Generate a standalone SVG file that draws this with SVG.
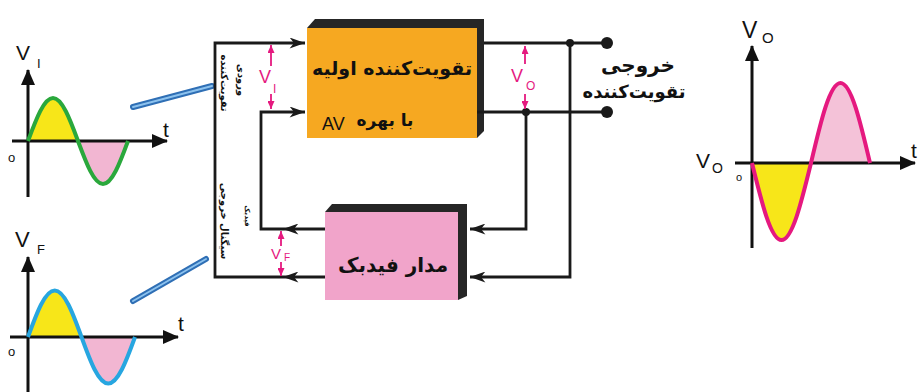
<svg xmlns="http://www.w3.org/2000/svg" width="919" height="392" viewBox="0 0 919 392">
<defs>
<style>
.ax{stroke:#111;stroke-width:3;fill:none}
.ln{stroke:#1a1a1a;stroke-width:2.8;fill:none}
.pk{stroke:#e5197f;stroke-width:1.8;fill:none}
.lat{font-family:"Liberation Sans",Arial,sans-serif;fill:#111}
.fa{font-family:"DejaVu Sans","Noto Sans",sans-serif;font-weight:bold;fill:#111}
.pkt{font-family:"Liberation Sans",Arial,sans-serif;fill:#e5197f}
.blueA{stroke:#2f6fb5;stroke-width:6;stroke-linecap:round;fill:none}
.blueB{stroke:#8cc2ee;stroke-width:2;stroke-linecap:round;fill:none}
</style>
<marker id="axh" viewBox="0 0 16 14" refX="15" refY="7" markerWidth="16" markerHeight="14" markerUnits="userSpaceOnUse" orient="auto"><path d="M0,0 L16,7 L0,14 Z" fill="#111"/></marker>
<marker id="ah" viewBox="0 0 14 10" refX="14" refY="5" markerWidth="16" markerHeight="11" markerUnits="userSpaceOnUse" orient="auto"><path d="M0,0 L14,5 L0,10 L4,5 Z" fill="#1a1a1a"/></marker>
<marker id="pah" viewBox="0 0 8 7" refX="8" refY="3.5" markerWidth="8" markerHeight="7" markerUnits="userSpaceOnUse" orient="auto"><path d="M0,0 L8,3.5 L0,7 Z" fill="#e5197f"/></marker>
</defs>
<rect width="919" height="392" fill="#fff"/>

<g id="graph-vi">
<path d="M28,141 C36.2,119 44,98 53,98 C62,98 69.9,119 78,141 Z" fill="#f7e619"/>
<path d="M78,141 C86.2,163 94,184 103,184 C112,184 119.9,163 128,141 Z" fill="#f2b6d2"/>
<line class="ax" x1="28" y1="197" x2="28" y2="70" marker-end="url(#axh)"/>
<line class="ax" x1="12" y1="141" x2="167" y2="141" marker-end="url(#axh)"/>
<path d="M28,141 C36.2,119 44,98 53,98 C62,98 69.9,119 78,141 C86.2,163 94,184 103,184 C112,184 119.9,163 128,141" fill="none" stroke="#2aa83c" stroke-width="4"/>
<text class="lat" x="16" y="60" font-size="21">V</text>
<text class="lat" x="37" y="68" font-size="13">I</text>
<text class="lat" x="163" y="137" font-size="21">t</text>
<text class="lat" x="8" y="162" font-size="13">o</text>
</g>

<g id="graph-vf">
<path d="M28,337 C36.7,313 45,290.5 54.75,290.5 C64.4,290.5 72.8,313 81.5,337 Z" fill="#f7e619"/>
<path d="M81.5,337 C90.2,361 98.5,383.5 108.25,383.5 C117.9,383.5 126.3,361 135,337 Z" fill="#f2b6d2"/>
<line class="ax" x1="28" y1="392" x2="28" y2="257" marker-end="url(#axh)"/>
<line class="ax" x1="10" y1="337" x2="178" y2="337" marker-end="url(#axh)"/>
<path d="M28,337 C36.7,313 45,290.5 54.75,290.5 C64.4,290.5 72.8,313 81.5,337 C90.2,361 98.5,383.5 108.25,383.5 C117.9,383.5 126.3,361 135,337" fill="none" stroke="#27a6e0" stroke-width="4"/>
<text class="lat" x="15" y="247" font-size="22">V</text>
<text class="lat" x="37" y="254" font-size="13">F</text>
<text class="lat" x="178" y="331" font-size="21">t</text>
<text class="lat" x="8" y="356" font-size="13">o</text>
</g>

<g id="graph-vo">
<path d="M752,163 C761.6,202.4 770.8,240 781.5,240 C792.2,240 801.4,202.4 811,163 Z" fill="#f7e619"/>
<path d="M811,163 C820.6,122 829.8,83 840.5,83 C851.2,83 860.4,122 870,163 Z" fill="#f4c2d8"/>
<line class="ax" x1="752" y1="248" x2="752" y2="46" marker-end="url(#axh)"/>
<line class="ax" x1="735" y1="163" x2="915" y2="163" marker-end="url(#axh)"/>
<path d="M752,163 C761.6,202.4 770.8,240 781.5,240 C792.2,240 801.4,202.4 811,163 C820.6,122 829.8,83 840.5,83 C851.2,83 860.4,122 870,163" fill="none" stroke="#e5197f" stroke-width="4"/>
<text class="lat" x="742" y="38" font-size="23">V</text>
<text class="lat" x="762" y="43" font-size="15">O</text>
<text class="lat" x="696" y="168" font-size="21">V</text>
<text class="lat" x="712" y="173" font-size="14">O</text>
<text class="lat" x="736" y="181" font-size="11">o</text>
<text class="lat" x="911" y="158" font-size="21">t</text>
</g>

<g id="blue-arrows">
<line class="blueA" x1="133" y1="107" x2="212" y2="86"/>
<line class="blueB" x1="133" y1="107" x2="212" y2="86"/>
<line class="blueA" x1="133" y1="301" x2="206" y2="259"/>
<line class="blueB" x1="133" y1="301" x2="206" y2="259"/>
</g>

<g id="amplifier">
<path d="M307,28 L315,19 L484,19 L484,131 L477,138 Z" fill="#262626"/>
<rect x="307" y="28" width="170" height="110" fill="#f6a821"/>
<text class="fa" x="392" y="75" font-size="19" text-anchor="middle">تقویت‌کننده اولیه</text>
<text class="fa" x="385" y="126" font-size="17" text-anchor="middle">با بهره</text>
<text class="lat" x="322" y="130" font-size="18">AV</text>
</g>

<g id="feedback">
<path d="M325,212 L332,204 L467,204 L467,296 L458,300 Z" fill="#262626"/>
<rect x="325" y="212" width="133" height="88" fill="#f1a4ca"/>
<text class="fa" x="393" y="272" font-size="20" text-anchor="middle">مدار فیدبک</text>
</g>

<g id="labels">
<text class="fa" x="638" y="72" font-size="20" text-anchor="middle">خروجی</text>
<text class="fa" x="634" y="98" font-size="18" text-anchor="middle">تقویت‌کننده</text>
<text class="fa" font-size="10" font-weight="normal" text-anchor="middle" transform="translate(238,80) rotate(90)">ورودی</text>
<text class="fa" font-size="10" font-weight="normal" text-anchor="middle" transform="translate(221,83) rotate(90)">تقویت‌کننده</text>
<text class="fa" font-size="10" font-weight="normal" text-anchor="middle" transform="translate(221,221) rotate(90)">سیگنال خروجی</text>
<text class="fa" font-size="7" font-weight="normal" text-anchor="middle" transform="translate(245,216) rotate(90)">فیدبک</text>
</g>

<g id="connectors">
<path class="ln" d="M325,277 L283,277" marker-end="url(#ah)"/>
<path class="ln" d="M283,277 L215,277 L215,43 L305,43" marker-end="url(#ah)"/>
<path class="ln" d="M325,229 L283,229" marker-end="url(#ah)"/>
<path class="ln" d="M283,229 L261,229 L261,112 L305,112" marker-end="url(#ah)"/>
<path class="ln" d="M484,43 L607,43"/>
<path class="ln" d="M477,112 L607,112"/>
<path class="ln" d="M526,112 L526,229 L470,229" marker-end="url(#ah)"/>
<path class="ln" d="M570,43 L570,277 L470,277" marker-end="url(#ah)"/>
<circle cx="607" cy="43" r="6" fill="#1a1a1a"/>
<circle cx="607" cy="112" r="6" fill="#1a1a1a"/>
<circle cx="570" cy="43" r="4" fill="#1a1a1a"/>
<circle cx="526" cy="112" r="4" fill="#1a1a1a"/>
</g>

<g id="voltage-marks">
<path class="pk" d="M271,66 L271,45" marker-end="url(#pah)"/>
<path class="pk" d="M271,94 L271,109" marker-end="url(#pah)"/>
<text class="pkt" x="259" y="83" font-size="18">V</text>
<text class="pkt" x="273" y="93" font-size="12">I</text>
<path class="pk" d="M525,64 L525,46" marker-end="url(#pah)"/>
<path class="pk" d="M525,94 L525,109" marker-end="url(#pah)"/>
<text class="pkt" x="511" y="82" font-size="18">V</text>
<text class="pkt" x="526" y="90" font-size="12">O</text>
<path class="pk" d="M281,246 L281,231" marker-end="url(#pah)"/>
<path class="pk" d="M281,262 L281,276" marker-end="url(#pah)"/>
<text class="pkt" x="271" y="259" font-size="15">V</text>
<text class="pkt" x="284" y="261" font-size="10">F</text>
</g>
</svg>
